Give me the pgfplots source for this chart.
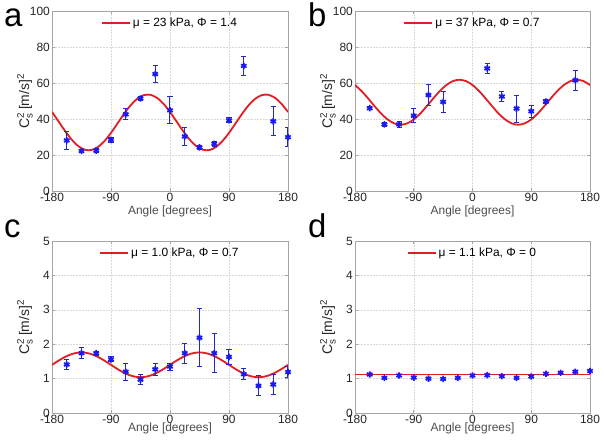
\documentclass[border=0pt]{standalone}
\usepackage{pgfplots}
\pgfplotsset{compat=1.18}
\usepackage{amsmath}
\usepackage{fontspec}
\setmainfont{Liberation Sans}
\definecolor{mred}{RGB}{225,30,35}
\definecolor{mblue}{RGB}{25,25,240}
\definecolor{ebar}{RGB}{35,40,200}
\definecolor{axgray}{RGB}{165,165,165}
\pgfplotsset{
 panel/.style={
  scale only axis, width=236bp,
  xmin=-180, xmax=180,
  xtick={-180,-90,0,90,180}, xticklabels={-180,-90,0,90,180},
  axis line style={axgray, line width=0.6bp},
  tick style={axgray, line width=0.6bp}, tick align=inside, major tick length=3bp,
  xmajorgrids, ymajorgrids, major grid style={gray!30, line width=0.5bp, densely dotted},
  tick label style={font=\fontsize{12}{12}\selectfont, text=black!85},
  xticklabel style={inner sep=2bp},
  yticklabel style={inner sep=2bp},
  label style={font=\fontsize{12}{12}\selectfont},
  xlabel={Angle [degrees]},
  ylabel={\fontsize{14}{14}\selectfont C$^{\text{2}}_{\text{s}}$\,[m/s]$^{\text{2}}$},
  ylabel style={at={(axis description cs:-0.115,0.5)}, anchor=center, text=black!85},
  legend style={at={(0.5,0.985)}, anchor=north, draw=none, fill=none, font=\fontsize{12}{12}\selectfont, legend cell align=left},
  legend image code/.code={\draw[#1] (0bp,0bp) -- (28bp,0bp);},
 },
 toprow/.style={height=180bp, xlabel style={text=black!70, at={(axis description cs:0.5,0)}, anchor=north, yshift=-11bp}},
 botrow/.style={height=172bp, xlabel style={text=black!70, at={(axis description cs:0.5,0)}, anchor=north, yshift=-6bp}},
 fitline/.style={mred, line width=1.8bp, smooth, no markers},
 data/.style={only marks, mark=asterisk, mark size=3.2bp, mblue, mark options={line width=1.7bp},
   error bars/.cd, y dir=both, y explicit, error bar style={ebar, line width=1bp},
   error mark options={rotate=90, mark size=2.5bp, ebar, line width=1bp}},
}
\begin{document}
\begin{tikzpicture}
\useasboundingbox (0,0) rectangle (604bp,445bp);
% ---------- a ----------
\begin{axis}[panel, toprow, at={(52bp,254bp)}, anchor=south west,
  ymin=0, ymax=100, ytick={0,20,40,60,80,100}, yticklabels={0,20,40,60,80,100}]
\addplot[fitline] coordinates {
(-180,43.91) (-170,38.64) (-160,33.31) (-150,28.56) (-140,24.96) (-130,22.94) (-120,22.75) (-110,24.41) (-100,27.73)
(-90,32.29) (-80,37.56) (-70,42.89) (-60,47.64) (-50,51.24) (-40,53.26) (-30,53.45) (-20,51.79) (-10,48.47)
(0,43.91) (10,38.64) (20,33.31) (30,28.56) (40,24.96) (50,22.94) (60,22.75) (70,24.41) (80,27.73)
(90,32.29) (100,37.56) (110,42.89) (120,47.64) (130,51.24) (140,53.26) (150,53.45) (160,51.79) (170,48.47) (180,43.91)};
\addlegendentry{μ = 23 kPa, Φ = 1.4}
\addplot[data] coordinates {
(-157.5,28.1) +- (0,4.9)
(-135,22.2) +- (0,1)
(-112.5,22.4) +- (0,1)
(-90,28.4) +- (0,1.2)
(-67.5,42.6) +- (0,3)
(-45,51.4) +- (0,1)
(-22.5,65.0) +- (0,4.6)
(0,44.8) +- (0,7.5)
(22.5,30.3) +- (0,5)
(45,24.2) +- (0,1)
(67.5,26.2) +- (0,1.5)
(90,39.3) +- (0,1.5)
(112.5,69.5) +- (0,5.4)
(157.5,38.7) +- (0,8.1)
(180,29.9) +- (0,5.3)};
\end{axis}
% ---------- b ----------
\begin{axis}[panel, toprow, at={(355bp,254bp)}, anchor=south west, width=235bp,
  ymin=0, ymax=100, ytick={0,20,40,60,80,100}, yticklabels={0,20,40,60,80,100}]
\addplot[fitline] coordinates {
(-180,58.88) (-170,55.55) (-160,51.47) (-150,47.13) (-140,43.05) (-130,39.73) (-120,37.56) (-110,36.8) (-100,37.56)
(-90,39.73) (-80,43.05) (-70,47.13) (-60,51.47) (-50,55.55) (-40,58.88) (-30,61.05) (-20,61.8) (-10,61.05)
(0,58.88) (10,55.55) (20,51.47) (30,47.13) (40,43.05) (50,39.73) (60,37.56) (70,36.8) (80,37.56)
(90,39.73) (100,43.05) (110,47.13) (120,51.47) (130,55.55) (140,58.88) (150,61.05) (160,61.8) (170,61.05) (180,58.88)};
\addlegendentry{μ = 37 kPa, Φ = 0.7}
\addplot[data] coordinates {
(-157.5,46.0) +- (0,1)
(-135,37.0) +- (0,1)
(-112.5,37.0) +- (0,1.5)
(-90,41.8) +- (0,4)
(-67.5,53.3) +- (0,5.6)
(-45,49.5) +- (0,5.7)
(22.5,68.1) +- (0,3)
(45,52.5) +- (0,3)
(67.5,45.8) +- (0,7.5)
(90,44.3) +- (0,3.3)
(112.5,49.7) +- (0,1)
(157.5,61.5) +- (0,5.7)};
\end{axis}
% ---------- c ----------
\begin{axis}[panel, botrow, at={(52bp,32bp)}, anchor=south west,
  ymin=0, ymax=5, ytick={0,1,2,3,4,5}, yticklabels={0,1,2,3,4,5}]
\addplot[fitline] coordinates {
(-180,1.400) (-170,1.523) (-160,1.631) (-150,1.712) (-140,1.755) (-130,1.755) (-120,1.712) (-110,1.631) (-100,1.523)
(-90,1.400) (-80,1.277) (-70,1.169) (-60,1.088) (-50,1.045) (-40,1.045) (-30,1.088) (-20,1.169) (-10,1.277)
(0,1.400) (10,1.523) (20,1.631) (30,1.712) (40,1.755) (50,1.755) (60,1.712) (70,1.631) (80,1.523)
(90,1.400) (100,1.277) (110,1.169) (120,1.088) (130,1.045) (140,1.045) (150,1.088) (160,1.169) (170,1.277) (180,1.400)};
\addlegendentry{μ = 1.0 kPa, Φ = 0.7}
\addplot[data] coordinates {
(-157.5,1.41) +- (0,0.14)
(-135,1.74) +- (0,0.15)
(-112.5,1.74) +- (0,0.06)
(-90,1.56) +- (0,0.07)
(-67.5,1.20) +- (0,0.25)
(-45,0.97) +- (0,0.15)
(-22.5,1.27) +- (0,0.18)
(0,1.35) +- (0,0.1)
(22.5,1.74) +- (0,0.29)
(45,2.19) +- (0,0.85)
(67.5,1.74) +- (0,0.57)
(90,1.63) +- (0,0.22)
(112.5,1.13) +- (0,0.15)
(135,0.79) +- (0,0.29)
(157.5,0.83) +- (0,0.29)
(180,1.19) +- (0,0.15)};
\end{axis}
% ---------- d ----------
\begin{axis}[panel, botrow, at={(355bp,32bp)}, anchor=south west, width=235bp,
  ymin=0, ymax=5, ytick={0,1,2,3,4,5}, yticklabels={0,1,2,3,4,5}]
\addplot[fitline] coordinates {(-180,1.12) (180,1.12)};
\addlegendentry{μ = 1.1 kPa, Φ = 0}
\addplot[data] coordinates {
(-157.5,1.12) +- (0,0.03)
(-135,1.02) +- (0,0.03)
(-112.5,1.09) +- (0,0.03)
(-90,1.03) +- (0,0.03)
(-67.5,1.00) +- (0,0.03)
(-45,0.99) +- (0,0.03)
(-22.5,1.02) +- (0,0.03)
(0,1.09) +- (0,0.03)
(22.5,1.10) +- (0,0.03)
(45,1.07) +- (0,0.03)
(67.5,1.02) +- (0,0.03)
(90,1.06) +- (0,0.03)
(112.5,1.14) +- (0,0.03)
(135,1.17) +- (0,0.03)
(157.5,1.20) +- (0,0.03)
(180,1.22) +- (0,0.04)};
\end{axis}
% panel letters
\node[anchor=base west, inner sep=0pt, font=\fontsize{33}{33}\selectfont] at (4bp,418bp) {a};
\node[anchor=base west, inner sep=0pt, font=\fontsize{33}{33}\selectfont] at (308bp,418bp) {b};
\node[anchor=base west, inner sep=0pt, font=\fontsize{33}{33}\selectfont] at (4bp,207bp) {c};
\node[anchor=base west, inner sep=0pt, font=\fontsize{33}{33}\selectfont] at (308bp,207bp) {d};
\end{tikzpicture}
\end{document}
